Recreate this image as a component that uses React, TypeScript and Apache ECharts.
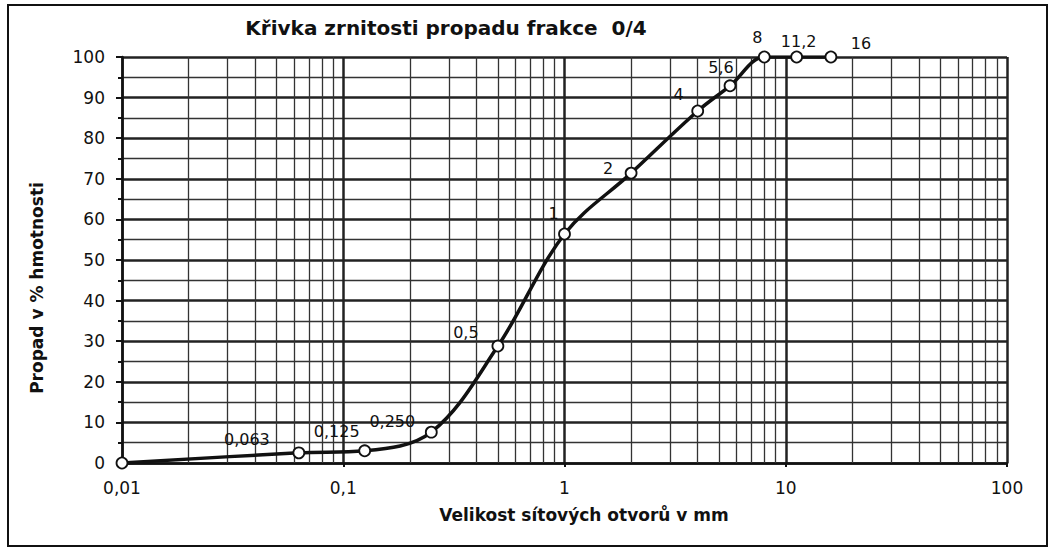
import React, { useEffect, useRef } from "react";
import * as echarts from "echarts";

const sieveSizes = [0.01, 0.063, 0.125, 0.25, 0.5, 1, 2, 4, 5.6, 8, 11.2, 16];
const passing = [0, 2.5, 3.0, 7.6, 28.8, 56.4, 71.4, 86.7, 92.9, 100, 100, 100];
const pointLabels = ["", "0,063", "0,125", "0,250", "0,5", "1", "2", "4", "5,6", "8", "11,2", "16"];
const labelOffsets: [number, number][] = [
  [0, 0], [-52, -13], [-28, -19], [-39, -11], [-32, -14], [-11, -21],
  [-23, -5], [-19, -16], [-9, -18], [-7, -20], [2, -16], [30, -14],
];
const decades = [0.01, 0.1, 1, 10];
const multipliers = [2, 3, 4, 5, 6, 7, 8, 9];

const titleText = "Křivka zrnitosti propadu frakce  0/4";
const xName = "Velikost sítových otvorů v mm";
const yName = "Propad v % hmotnosti";

const FONT = "DejaVu Sans, Liberation Sans, Arial, sans-serif";

export default function App() {
  const ref = useRef<HTMLDivElement>(null);
  useEffect(() => {
    if (!ref.current) return;
    const chart = echarts.init(ref.current, undefined, { renderer: "svg" });
    const minorX: number[] = [];
    decades.forEach((d) => multipliers.forEach((m) => minorX.push(+(d * m).toPrecision(6))));
    const data = sieveSizes.map((x, i) => ({
      value: [x, passing[i]],
      label: {
        show: pointLabels[i] !== "",
        formatter: pointLabels[i],
        position: "inside",
        align: "center",
        verticalAlign: "middle",
        offset: labelOffsets[i],
        color: "#111",
        textBorderWidth: 0,
        fontSize: 16,
        fontFamily: FONT,
      },
    }));
    const fmt = (v: number) => String(+Number(v).toPrecision(6)).replace(".", ",");
    chart.setOption({
      animation: false,
      backgroundColor: "#fff",
      graphic: [
        {
          type: "rect",
          shape: { x: 8, y: 5, width: 1039, height: 541 },
          style: { fill: "none", stroke: "#111", lineWidth: 2 },
          silent: true,
        },
        {
          type: "text",
          x: 446,
          y: 28,
          silent: true,
          style: {
            text: titleText,
            align: "center",
            verticalAlign: "middle",
            font: "bold 20px " + FONT,
            fill: "#111",
          },
        },
        {
          type: "text",
          x: 584,
          y: 515,
          silent: true,
          style: {
            text: xName,
            align: "center",
            verticalAlign: "middle",
            font: "bold 17px " + FONT,
            fill: "#111",
          },
        },
        {
          type: "text",
          x: 37,
          y: 288,
          rotation: Math.PI / 2,
          silent: true,
          style: {
            text: yName,
            align: "center",
            verticalAlign: "middle",
            font: "bold 17px " + FONT,
            fill: "#111",
          },
        },
      ],
      grid: { left: 122, right: 47, top: 57, bottom: 88 },
      xAxis: {
        type: "log",
        logBase: 10,
        min: 0.01,
        max: 100,
        axisLine: { lineStyle: { color: "#111", width: 2.5 } },
        axisTick: { show: true, length: 4, lineStyle: { color: "#111", width: 2 } },
        axisLabel: {
          formatter: fmt,
          fontFamily: FONT,
          fontSize: 17,
          color: "#111",
          margin: 16,
        },
        splitLine: { show: true, lineStyle: { color: "#222", width: 2.5 } },
      },
      yAxis: {
        type: "value",
        min: 0,
        max: 100,
        interval: 10,
        axisLine: { show: true, lineStyle: { color: "#111", width: 2.5 } },
        axisTick: { show: true, length: 6, lineStyle: { color: "#111", width: 2 } },
        minorTick: { show: true, splitNumber: 2, length: 4, lineStyle: { color: "#111", width: 2 } },
        axisLabel: {
          fontFamily: FONT,
          fontSize: 17,
          color: "#111",
          margin: 17,
        },
        splitLine: { show: true, lineStyle: { color: "#222", width: 2.5 } },
        minorSplitLine: { show: true, lineStyle: { color: "#333", width: 1.3 } },
      },
      series: [
        {
          type: "line",
          data: [],
          z: 1,
          silent: true,
          markLine: {
            silent: true,
            symbol: "none",
            label: { show: false },
            lineStyle: { color: "#333", width: 1.3, type: "solid" },
            data: minorX.map((v) => ({ xAxis: v })),
          },
        },
        {
          type: "line",
          z: 5,
          data,
          smooth: 0.35,
          symbol: "circle",
          symbolSize: 11,
          lineStyle: { color: "#111", width: 3.5 },
          itemStyle: { color: "#fff", borderColor: "#111", borderWidth: 1.8 },
        },
      ],
    });
    return () => chart.dispose();
  }, []);
  return (
    <div
      ref={ref}
      style={{ position: "absolute", left: 0, top: 0, width: 1054, height: 551, background: "#fff" }}
    />
  );
}
